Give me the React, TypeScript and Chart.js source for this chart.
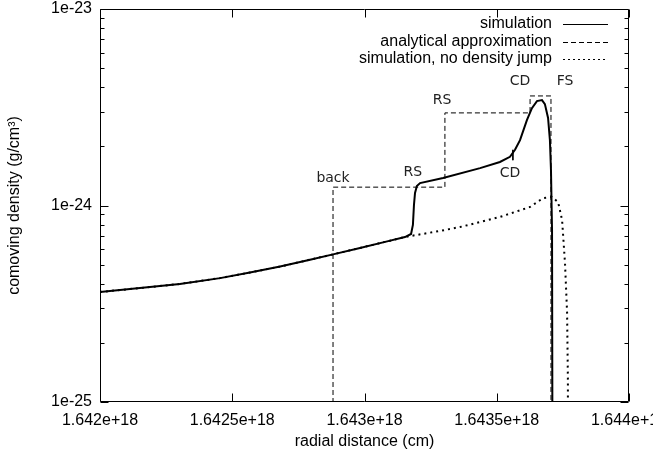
import React, { useEffect, useRef } from 'react';
import { Chart, registerables } from 'chart.js';

Chart.register(...registerables);

// ---- data ----
const FLOOR = 1e-27; // "zero" density (below the plotted range)

const xTicks = [1.642e18, 1.6425e18, 1.643e18, 1.6435e18, 1.644e18];
const xTickLabels = ['1.642e+18', '1.6425e+18', '1.643e+18', '1.6435e+18', '1.644e+18'];
const yMajor = [1e-25, 1e-24, 1e-23];
const yMajorLabels = ['1e-25', '1e-24', '1e-23'];
const yMinorMantissas = [2, 3, 4, 5, 6, 7, 8, 9];

const seriesNames = ['simulation', 'analytical approximation', 'simulation, no density jump'];

const simX = [
  1.642000e18, 1.642151e18, 1.642302e18, 1.642454e18, 1.642567e18, 1.642681e18, 1.642794e18,
  1.642881e18, 1.642983e18, 1.643078e18, 1.643153e18, 1.643176e18, 1.643183e18, 1.643187e18,
  1.643191e18, 1.643198e18, 1.643210e18, 1.643297e18, 1.643437e18, 1.643512e18, 1.643550e18,
  1.643569e18, 1.643588e18, 1.643614e18, 1.643633e18, 1.643652e18, 1.643671e18, 1.643682e18,
  1.643694e18, 1.643701e18, 1.643705e18, 1.643709e18, 1.643713e18,
];
const simY = [
  3.63e-25, 3.80e-25, 3.99e-25, 4.27e-25, 4.56e-25, 4.89e-25, 5.30e-25,
  5.64e-25, 6.08e-25, 6.53e-25, 6.91e-25, 7.16e-25, 7.96e-25, 1.006e-24,
  1.158e-24, 1.257e-24, 1.30e-24, 1.38e-24, 1.55e-24, 1.665e-24, 1.77e-24,
  1.92e-24, 2.15e-24, 2.72e-24, 3.13e-24, 3.40e-24, 3.44e-24, 3.28e-24,
  2.79e-24, 2.15e-24, 1.52e-24, 7.50e-25, FLOOR,
];

const anaX = [1.642881e18, 1.642881e18, 1.643304e18, 1.643304e18, 1.643626e18, 1.643626e18, 1.643705e18, 1.643705e18];
const anaY = [FLOOR, 1.24e-24, 1.24e-24, 2.96e-24, 2.96e-24, 3.61e-24, 3.61e-24, FLOOR];

const noJumpX = [
  1.642000e18, 1.642151e18, 1.642302e18, 1.642454e18, 1.642567e18, 1.642681e18, 1.642794e18,
  1.642881e18, 1.642983e18, 1.643078e18, 1.643153e18, 1.643176e18, 1.643285e18, 1.643361e18,
  1.643437e18, 1.643512e18, 1.643626e18, 1.643675e18, 1.643709e18, 1.643732e18, 1.643747e18,
  1.643758e18, 1.643766e18, 1.643769e18, 1.643769e18,
];
const noJumpY = [
  3.63e-25, 3.80e-25, 3.99e-25, 4.27e-25, 4.56e-25, 4.89e-25, 5.30e-25,
  5.64e-25, 6.08e-25, 6.53e-25, 6.91e-25, 7.0e-25, 7.42e-25, 7.77e-25,
  8.24e-25, 8.74e-25, 9.83e-25, 1.09e-24, 1.105e-24, 1.04e-24, 8.44e-25,
  5.10e-25, 2.84e-25, 1.29e-25, FLOOR,
];

const cdMarkX = [1.643561e18, 1.643561e18];
const cdMarkY = [1.92e-24, 1.70e-24];

const annoTexts = ['back', 'RS', 'RS', 'CD', 'FS', 'CD'];
const annoX = [1.642881e18, 1.643183e18, 1.643293e18, 1.643588e18, 1.643758e18, 1.643550e18];
const annoY = [1.38e-24, 1.48e-24, 3.44e-24, 4.30e-24, 4.30e-24, 1.464e-24];

// ---- helpers ----
const zip = (xs: number[], ys: number[]) => xs.map((x, i) => ({ x, y: ys[i] }));
const AXIS_FONT = '"Liberation Sans", Arial, sans-serif';
const AXIS_SIZE = 16;

const decorPlugin = {
  id: 'decor',
  afterDatasetsDraw(chart: any) {
    const { ctx, chartArea: a, scales } = chart;
    const xs = scales.x;
    const ys = scales.y;
    ctx.save();
    ctx.strokeStyle = '#000';
    ctx.lineWidth = 1;
    ctx.setLineDash([]);
    // frame
    const L = Math.round(a.left) + 0.5;
    const R = Math.round(a.right) - 0.5;
    const T = Math.round(a.top) + 0.5;
    const B = Math.round(a.bottom) - 0.5;
    ctx.beginPath();
    ctx.moveTo(L, T); ctx.lineTo(R, T); ctx.lineTo(R, B); ctx.lineTo(L, B); ctx.closePath();
    ctx.stroke();
    // x ticks (inward, bottom and top)
    ctx.beginPath();
    xs.ticks.forEach((t: any) => {
      const px = Math.round(xs.getPixelForValue(t.value)) + 0.5;
      ctx.moveTo(px, B); ctx.lineTo(px, B - 8);
      ctx.moveTo(px, T); ctx.lineTo(px, T + 8);
    });
    // y ticks (inward, left and right)
    ys.ticks.forEach((t: any) => {
      const py = Math.round(ys.getPixelForValue(t.value)) + 0.5;
      const major = yMajor.some((m) => Math.abs(Math.log10(m) - Math.log10(t.value)) < 1e-6);
      const len = major ? 8 : 4;
      ctx.moveTo(L, py); ctx.lineTo(L + len, py);
      ctx.moveTo(R, py); ctx.lineTo(R - len, py);
    });
    ctx.stroke();

    // annotations
    ctx.fillStyle = '#222';
    ctx.font = '14px "DejaVu Sans", sans-serif';
    ctx.textAlign = 'center';
    ctx.textBaseline = 'middle';
    annoTexts.forEach((txt, i) => {
      ctx.fillText(txt, xs.getPixelForValue(annoX[i]), ys.getPixelForValue(annoY[i]));
    });

    // legend (gnuplot style: text right-aligned, then sample)
    ctx.font = AXIS_SIZE + 'px ' + AXIS_FONT;
    ctx.fillStyle = '#000';
    ctx.textAlign = 'right';
    const rows = [24, 42, 59];
    const dashes = [[], [5, 3], [2, 3]];
    chart.data.datasets.slice(0, 3).forEach((ds: any, i: number) => {
      const y = rows[i];
      ctx.fillText(ds.label, 552, y);
      ctx.beginPath();
      ctx.setLineDash(dashes[i]);
      ctx.lineWidth = 1;
      ctx.moveTo(563, y + 0.5);
      ctx.lineTo(608, y + 0.5);
      ctx.stroke();
    });
    ctx.restore();
  },
};

export default function App() {
  const canvasRef = useRef<HTMLCanvasElement | null>(null);

  useEffect(() => {
    if (!canvasRef.current) return;
    const chart = new Chart(canvasRef.current, {
      type: 'scatter',
      data: {
        datasets: [
          {
            label: seriesNames[0],
            data: zip(simX, simY),
            showLine: true,
            borderColor: '#000',
            borderWidth: 2,
            pointRadius: 0,
            clip: 0,
          },
          {
            label: seriesNames[1],
            data: zip(anaX, anaY),
            showLine: true,
            borderColor: '#000',
            borderWidth: 1,
            borderDash: [5, 3],
            pointRadius: 0,
            clip: 0,
          },
          {
            label: seriesNames[2],
            data: zip(noJumpX, noJumpY),
            showLine: true,
            borderColor: '#000',
            borderWidth: 2,
            borderDash: [2, 4],
            pointRadius: 0,
            clip: 0,
          },
          {
            label: 'CD marker',
            data: zip(cdMarkX, cdMarkY),
            showLine: true,
            borderColor: '#000',
            borderWidth: 1,
            pointRadius: 0,
            clip: 0,
          },
        ],
      } as any,
      options: {
        animation: false,
        responsive: false,
        devicePixelRatio: 1,
        events: [],
        layout: { padding: { top: 9, right: 24, left: 0, bottom: 0 } },
        plugins: { legend: { display: false }, tooltip: { enabled: false } },
        scales: {
          x: {
            type: 'linear',
            min: xTicks[0],
            max: xTicks[xTicks.length - 1],
            grid: { display: false, drawTicks: false },
            border: { display: false },
            afterBuildTicks: (s: any) => {
              s.ticks = xTicks.map((v) => ({ value: v }));
            },
            afterFit: (s: any) => {
              s.height = 51;
              s.paddingLeft = 0;
              s.paddingRight = 0;
            },
            ticks: {
              autoSkip: false,
              maxRotation: 0,
              minRotation: 0,
              padding: 9,
              color: '#000',
              font: { family: AXIS_FONT, size: AXIS_SIZE },
              callback: (_v: any, i: number) => xTickLabels[i],
            },
            title: {
              display: true,
              text: 'radial distance (cm)',
              color: '#000',
              font: { family: AXIS_FONT, size: AXIS_SIZE },
              padding: { top: 0, bottom: 2 },
            },
          },
          y: {
            type: 'logarithmic',
            min: yMajor[0],
            max: yMajor[yMajor.length - 1],
            grid: { display: false, drawTicks: false },
            border: { display: false },
            afterBuildTicks: (s: any) => {
              const ticks: { value: number }[] = [];
              for (let k = 0; k < yMajor.length; k++) {
                ticks.push({ value: yMajor[k] });
                if (k < yMajor.length - 1) {
                  yMinorMantissas.forEach((m) => ticks.push({ value: m * yMajor[k] }));
                }
              }
              s.ticks = ticks;
            },
            afterFit: (s: any) => {
              s.width = 100;
              s.paddingTop = 0;
              s.paddingBottom = 0;
            },
            ticks: {
              autoSkip: false,
              padding: 8,
              color: '#000',
              font: { family: AXIS_FONT, size: AXIS_SIZE },
              callback: (v: any) => {
                const idx = yMajor.findIndex((m) => Math.abs(Math.log10(m) - Math.log10(v)) < 1e-6);
                return idx >= 0 ? yMajorLabels[idx] : '';
              },
            },
            title: {
              display: true,
              text: 'comoving density (g/cm³)',
              color: '#000',
              font: { family: AXIS_FONT, size: AXIS_SIZE },
              padding: { top: 5, bottom: 0 },
            },
          },
        },
      } as any,
      plugins: [decorPlugin],
    });
    return () => chart.destroy();
  }, []);

  return (
    <div style={{ position: 'absolute', left: 0, top: 0, width: 653, height: 453, background: '#fff' }}>
      <canvas ref={canvasRef} width={653} height={453} style={{ display: 'block' }} />
    </div>
  );
}
